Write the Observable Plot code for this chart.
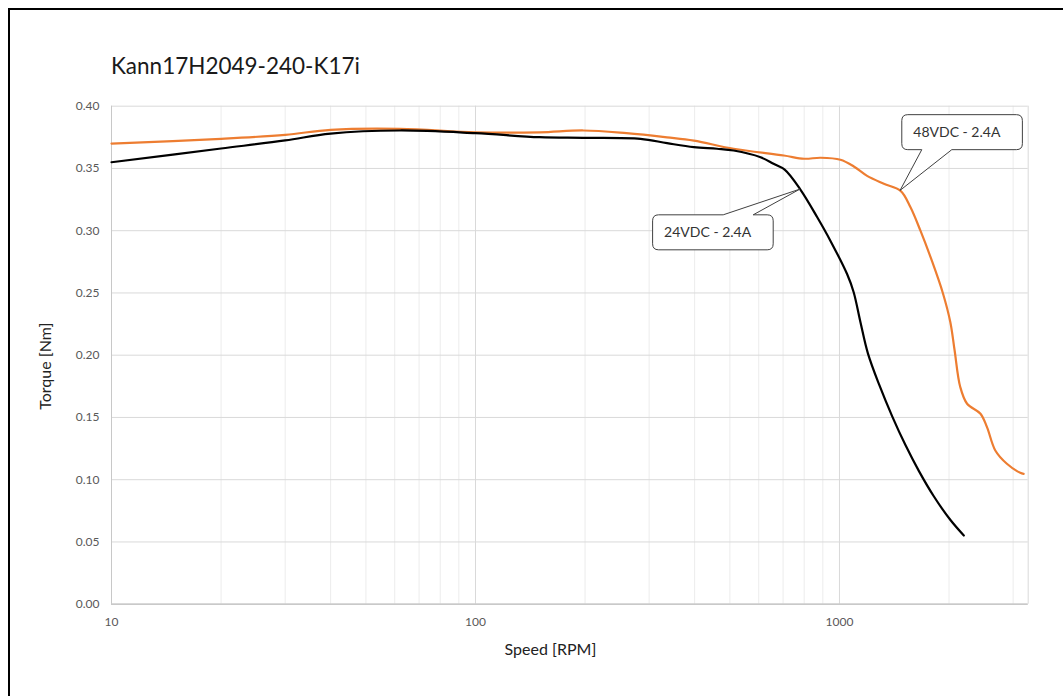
<!DOCTYPE html>
<html><head><meta charset="utf-8">
<script src="https://cdn.jsdelivr.net/npm/d3@7"></script>
<script src="https://cdn.jsdelivr.net/npm/@observablehq/plot@0.6"></script>
<style>
body{margin:0;background:#fff;font-family:Lato,sans-serif;}
#wrap{position:relative;width:1063px;height:696px;overflow:hidden;background:#fff}
#frame{position:absolute;left:8px;top:8px;width:1120px;height:760px;border:2px solid #000;box-sizing:border-box;pointer-events:none}
#title{position:absolute;left:111px;top:54px;font-size:22.5px;line-height:23px;color:#1a1a1a;white-space:nowrap}
#chart{position:absolute;left:0;top:90px}
</style></head>
<body>
<div id="wrap">
  <div id="title">Kann17H2049-240-K17i</div>
  <div id="chart"></div>
  <div id="frame"></div>
</div>
<script>
// ---- data ----
const speed24 = [10, 20, 30, 40, 62, 100, 150, 198, 284, 336, 398, 461, 512, 607, 659, 707, 781, 868, 944, 1050, 1094, 1142, 1197, 1288, 1396, 1518, 1652, 1816, 2018, 2196];
const torque24 = [0.355, 0.366, 0.3725, 0.378, 0.3805, 0.3783, 0.3751, 0.3746, 0.3738, 0.3703, 0.3671, 0.3658, 0.3644, 0.359, 0.3537, 0.349, 0.333, 0.311, 0.292, 0.265, 0.2506, 0.2265, 0.2015, 0.1757, 0.1509, 0.1278, 0.1071, 0.0867, 0.0676, 0.0552];

const speed48 = [10, 20, 30, 40, 62, 100, 150, 198, 260, 336, 398, 512, 703, 800, 887, 1006, 1095, 1191, 1324, 1472, 1566, 1669, 1795, 1923, 2016, 2071, 2147, 2242, 2440, 2544, 2680, 2884, 3139, 3206];
const torque48 = [0.370, 0.3738, 0.377, 0.381, 0.3818, 0.379, 0.379, 0.3805, 0.3783, 0.375, 0.3724, 0.3658, 0.3604, 0.3578, 0.3586, 0.357, 0.3516, 0.344, 0.3377, 0.332, 0.319, 0.300, 0.2757, 0.250, 0.2267, 0.2042, 0.1745, 0.161, 0.153, 0.142, 0.1235, 0.1128, 0.1055, 0.1047];

const annLabels = ["24VDC - 2.4A", "48VDC - 2.4A"];
const annSpeed = [781, 1472];
const annTorque = [0.333, 0.332];

const xTickLabels = [10, 100, 1000];
const xMinorGrid = [20, 30, 40, 50, 60, 70, 80, 90, 200, 300, 400, 500, 600, 700, 800, 900, 2000, 3000];
const xMajorGrid = [100, 1000, 3300];
const yTicks = [0, 0.05, 0.10, 0.15, 0.20, 0.25, 0.30, 0.35, 0.40];

// ---- tables ----
const s24 = speed24.map((s, i) => ({speed: s, torque: torque24[i]}));
const s48 = speed48.map((s, i) => ({speed: s, torque: torque48[i]}));
const ann = annLabels.map((l, i) => ({label: l, speed: annSpeed[i], torque: annTorque[i]}));

// callout layout (pixel offsets from the tip)
const calloutLayout = {
  "24VDC - 2.4A": {dx: -147.3, dy: 25.7, w: 120.6, h: 35, side: "top", b1: -76.7, b2: -46.7},
  "48VDC - 2.4A": {dx: 1.7, dy: -75.7, w: 120.6, h: 35, side: "bottom", b1: 21.7, b2: 51.7}
};

function calloutPath(x, y, w, h, r, side, bx1, bx2, tx, ty) {
  let p = `M${x + r},${y}`;
  if (side === "top") p += `L${bx1},${y}L${tx},${ty}L${bx2},${y}`;
  p += `L${x + w - r},${y}Q${x + w},${y} ${x + w},${y + r}`;
  p += `L${x + w},${y + h - r}Q${x + w},${y + h} ${x + w - r},${y + h}`;
  if (side === "bottom") p += `L${bx2},${y + h}L${tx},${ty}L${bx1},${y + h}`;
  p += `L${x + r},${y + h}Q${x},${y + h} ${x},${y + h - r}`;
  p += `L${x},${y + r}Q${x},${y} ${x + r},${y}Z`;
  return p;
}

function callouts(index, scales) {
  const g = d3.create("svg:g");
  ann.forEach(a => {
    const L = calloutLayout[a.label];
    const tx = scales.x(a.speed), ty = scales.y(a.torque);
    const bx = tx + L.dx, by = ty + L.dy;
    g.append("path")
      .attr("d", calloutPath(bx, by, L.w, L.h, 6, L.side, tx + L.b1, tx + L.b2, tx, ty))
      .attr("fill", "#fff").attr("stroke", "#404040").attr("stroke-width", 1);
    g.append("text")
      .attr("x", bx + 11.5).attr("y", by + L.h / 2)
      .attr("dy", "0.35em")
      .attr("text-anchor", "start")
      .attr("font-size", 14).attr("fill", "#333")
      .attr("font-family", "Lato, sans-serif")
      .text(a.label);
  });
  return g.node();
}

const chart = Plot.plot({
  width: 1063,
  height: 606,
  marginLeft: 111,
  marginRight: 35.3,
  marginTop: 15.7,
  marginBottom: 92.3,
  style: {fontFamily: "Lato, sans-serif", fontSize: "12px", color: "#595959", background: "transparent"},
  x: {type: "log", domain: [10, 3300], ticks: xTickLabels, tickSize: 0, tickPadding: 13, tickFormat: d => String(d), label: null},
  y: {domain: [0, 0.4], ticks: yTicks, tickSize: 0, tickPadding: 12, tickFormat: d3.format(".2f"), label: null},
  marks: [
    Plot.ruleX(xMinorGrid, {stroke: "#ececec", strokeWidth: 1}),
    Plot.ruleX(xMajorGrid, {stroke: "#d9d9d9", strokeWidth: 1}),
    Plot.ruleY(yTicks, {stroke: "#d9d9d9", strokeWidth: 1}),
    Plot.ruleX([10], {stroke: "#c8c8c8", strokeWidth: 1}),
    Plot.ruleY([0], {stroke: "#bfbfbf", strokeWidth: 1.3}),
    Plot.line(s48, {x: "speed", y: "torque", stroke: "#ED7D31", strokeWidth: 2.2, curve: "catmull-rom"}),
    Plot.line(s24, {x: "speed", y: "torque", stroke: "#000000", strokeWidth: 2.2, curve: "catmull-rom"}),
    callouts,
    Plot.text(["Speed [RPM]"], {frameAnchor: "bottom", textAnchor: "middle", lineAnchor: "middle", dx: -19.4, dy: 45.5, fontSize: 16, fill: "#222", text: d => d}),
    Plot.text(["Torque [Nm]"], {frameAnchor: "left", textAnchor: "middle", lineAnchor: "middle", rotate: -90, dx: -66, dy: 11, fontSize: 16, fill: "#222", text: d => d})
  ]
});
document.getElementById("chart").appendChild(chart);
</script>
</body></html>
